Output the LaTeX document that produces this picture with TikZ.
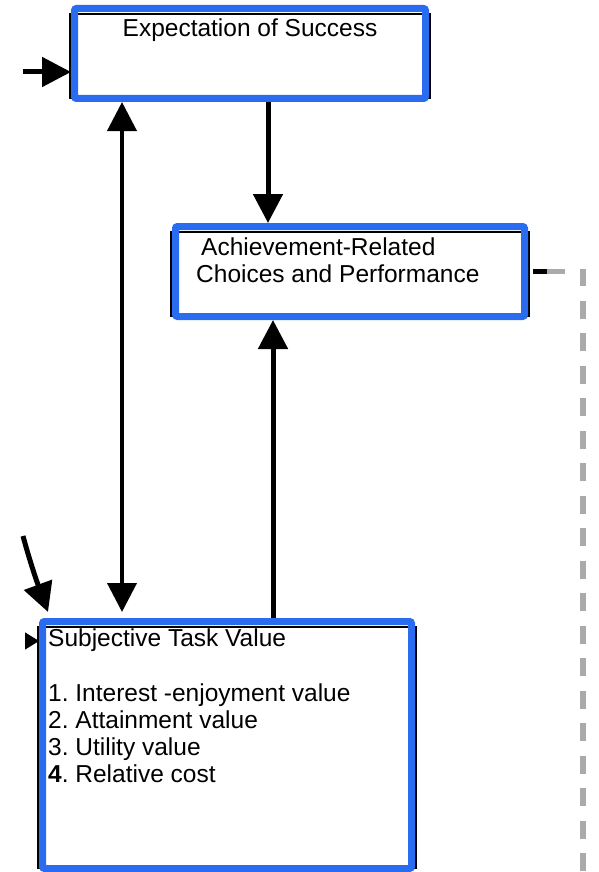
\documentclass[tikz,border=0pt]{standalone}
\usepackage{fontspec}
\setmainfont{Liberation Sans}
\usetikzlibrary{arrows.meta}
\pgfdeclarelayer{background}
\pgfsetlayers{background,main}
\definecolor{boxblue}{RGB}{42,108,240}
\definecolor{dashgray}{RGB}{170,170,170}
\frenchspacing

\begin{document}
\begin{tikzpicture}[x=1pt,y=-1pt,
  box/.style={draw=boxblue, line width=7pt, rounded corners=2pt, inner sep=0pt},
  edgeline/.style={draw=black, line width=1.5pt},
  txt/.style={inner sep=0pt, font=\fontsize{24.5}{27}\selectfont, align=left},
  arr/.style={line width=5pt, -{Triangle[length=29pt,width=29pt]}},
  twoarr/.style={line width=4pt, {Triangle[length=29pt,width=29pt]}-{Triangle[length=29pt,width=29pt]}},
  smallarr/.style={line width=1pt, -{Triangle[length=14pt,width=17pt]}},
  stub/.style={draw=black, line width=5pt},
  dashline/.style={draw=dashgray, line width=5.5pt, dash pattern=on 18pt off 14.5pt}]
\useasboundingbox (0,0) rectangle (598,872);

% the three boxes
\node[box, minimum width=351pt, minimum height=90pt] (exp) at (250,53.5) {};
\node[box, minimum width=349pt, minimum height=90pt] (ach) at (350,271.5) {};
\node[box, minimum width=369pt, minimum height=247pt] (sub) at (227,745) {};

% thin black frames behind the blue borders
\begin{pgfonlayer}{background}
  \fill[white] (0,0) rectangle (598,872);
  \foreach \n in {exp,ach,sub}
    \draw[edgeline] ([xshift=-1pt,yshift=-9pt]\n.north west) rectangle ([xshift=1pt,yshift=3.5pt]\n.south east);
\end{pgfonlayer}

% box texts (base anchor sits on the last line)
\node[txt, anchor=base] (exptxt) at (250,37) {Expectation of Success};
\node[txt, anchor=base west] (achtxt) at (196,282) {\hspace*{5pt}Achievement-Related\\Choices and Performance};
\node[txt, anchor=base west] (subtxt) at (48,782) {Subjective Task Value\\[28pt]1. Interest -enjoyment value\\2. Attainment value\\3. Utility value\\{\bfseries 4}. Relative cost};

% connectors
\coordinate (inE) at (23,72);
\draw[arr] (inE) -- (inE -| exp.west);

\coordinate (vx) at (122,0);
\draw[twoarr, shorten >=6pt] (vx |- exp.south) -- (vx |- sub.north);

\coordinate (dx) at (268,0);
\draw[arr] (dx |- exp.south) -- (dx |- ach.north);

\coordinate (ux) at (273,0);
\draw[arr] (ux |- sub.north) -- (ux |- ach.south);

\coordinate (cs) at (23,536);
\coordinate (ct) at (48,612);
\draw[arr] (cs) .. controls (30,562) and (37,582) .. (ct);

\coordinate (sl) at (25,641);
\draw[smallarr] (sl) -- (sl -| sub.west);

% dashed link leaving the achievement box
\draw[stub] ([xshift=5pt]ach.east) -- ([xshift=19pt]ach.east);
\coordinate (dend) at (583,885);
\draw[dashline] ([xshift=19pt]ach.east) -| (dend);
\end{tikzpicture}
\end{document}
